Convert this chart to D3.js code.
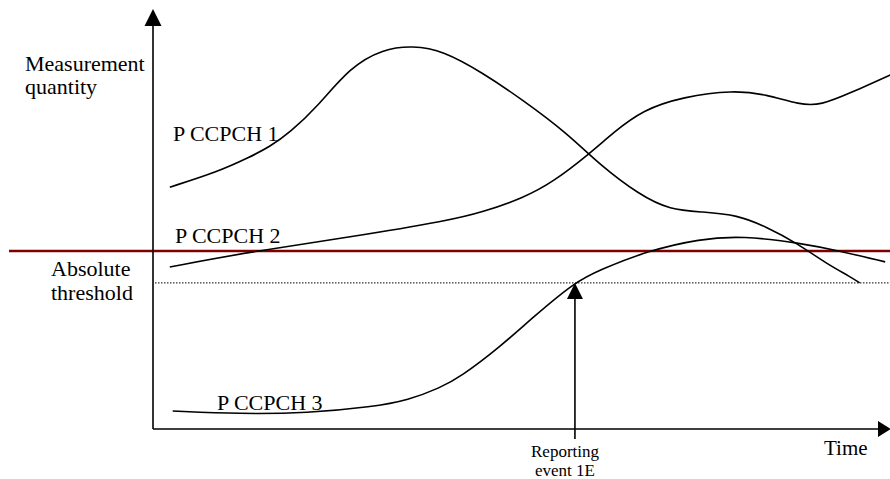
<!DOCTYPE html>
<html>
<head>
<meta charset="utf-8">
<script src="https://cdn.jsdelivr.net/npm/d3@7"></script>
<style>
  html, body { margin: 0; padding: 0; background: #fff; }
  svg text { font-family: 'Liberation Serif', 'Times New Roman', serif; fill: #000; }
</style>
</head>
<body>
<div id="chart"></div>
<script>
const pccpch1 = [
  [2.3, 58.3], [8.8, 61.9], [13.3, 65.5], [16.0, 67.9], [18.8, 71.4], [22.5, 77.4],
  [27.0, 86.9], [31.5, 91.2], [35.6, 92.0], [39.7, 90.8], [45.2, 85.5], [50.7, 79.0],
  [56.7, 71.2], [61.2, 63.6], [66.7, 56.4], [70.8, 52.9], [75.3, 52.4], [80.0, 51.7],
  [84.1, 48.8], [88.2, 45.0], [92.3, 40.0], [95.6, 36.9], [96.8, 35.5], [96.8, 35.5]
]
const pccpch2 = [
  [2.3, 39.3], [13.3, 42.9], [27.0, 46.4], [40.7, 50.4], [45.2, 52.4], [50.7, 55.7],
  [54.8, 59.5], [59.9, 66.4], [63.0, 71.2], [67.1, 76.7], [72.6, 79.8], [79.5, 81.4],
  [84.0, 80.4], [88.6, 77.9], [91.5, 77.8], [95.5, 80.7], [101.0, 85.0], [101.0, 85.0]
]
const pccpch3 = [
  [2.7, 5.0], [11.9, 4.3], [21.1, 4.5], [30.1, 6.0], [35.0, 7.6], [39.3, 10.5],
  [42.1, 13.1], [47.5, 20.2], [52.1, 27.4], [57.8, 35.7], [61.2, 38.6], [67.7, 43.1],
  [74.9, 46.0], [80.8, 46.7], [88.6, 45.0], [94.1, 43.1], [100.3, 40.5], [100.3, 40.5]
]
const seriesLabels = ['P CCPCH 1', 'P CCPCH 2', 'P CCPCH 3']
const redLevel = 43.1        // red horizontal line
const absThreshold = 35.5    // dotted absolute threshold
const reportTime = 57.8      // reporting event 1E

const width = 890, height = 479
const x0 = 153, y0 = 429     // axis origin

const x = d3.scaleLinear().domain([0, 100]).range([153, 883])
const y = d3.scaleLinear().domain([0, 100]).range([432, 12])

const svg = d3.select('#chart')
  .append('svg')
  .attr('width', width)
  .attr('height', height)

// red line
svg.append('line')
  .attr('x1', 9).attr('x2', 890)
  .attr('y1', y(redLevel)).attr('y2', y(redLevel))
  .attr('stroke', '#800000')
  .attr('stroke-width', 2.5)

// dotted threshold
svg.append('line')
  .attr('x1', 155).attr('x2', 890)
  .attr('y1', y(absThreshold)).attr('y2', y(absThreshold))
  .attr('stroke', '#000')
  .attr('stroke-width', 1)
  .attr('stroke-dasharray', '1.5,1.5')

// axes
svg.append('line')
  .attr('x1', x0).attr('x2', x0)
  .attr('y1', y0).attr('y2', 24)
  .attr('stroke', '#000').attr('stroke-width', 1.6)
svg.append('path')
  .attr('d', `M${x0},9 L${x0 - 8.5},26 L${x0 + 8.5},26 Z`)
  .attr('fill', '#000')

svg.append('line')
  .attr('x1', x0).attr('x2', 880)
  .attr('y1', y0).attr('y2', y0)
  .attr('stroke', '#000').attr('stroke-width', 1.6)
svg.append('path')
  .attr('d', `M891,${y0} L878,${y0 - 8} L878,${y0 + 8} Z`)
  .attr('fill', '#000')

// curves (first point doubled so the B-spline starts on it)
const line = d3.line()
  .x(d => x(d[0]))
  .y(d => y(d[1]))
  .curve(d3.curveBasis)

svg.selectAll('.curve')
  .data([pccpch1, pccpch2, pccpch3])
  .enter()
  .append('path')
  .attr('class', 'curve')
  .attr('d', d => line([d[0]].concat(d)))
  .attr('fill', 'none')
  .attr('stroke', '#000')
  .attr('stroke-width', 1.6)

// reporting arrow
const rx = x(reportTime)
svg.append('line')
  .attr('x1', rx).attr('x2', rx)
  .attr('y1', 439).attr('y2', y(absThreshold) + 12)
  .attr('stroke', '#000').attr('stroke-width', 1.6)
svg.append('path')
  .attr('d', `M${rx},${y(absThreshold)} L${rx - 8},${y(absThreshold) + 16} L${rx + 8},${y(absThreshold) + 16} Z`)
  .attr('fill', '#000')

// labels
const labelPos = [[173, 141], [175, 243], [217, 410]]
svg.selectAll('.series-label')
  .data(seriesLabels)
  .enter()
  .append('text')
  .attr('class', 'series-label')
  .attr('x', (d, i) => labelPos[i][0])
  .attr('y', (d, i) => labelPos[i][1])
  .style('font-size', '22px')
  .text(d => d)

const addText = (lines, xx, yy, size, lh, anchor) => {
  svg.append('text')
    .attr('text-anchor', anchor || 'start')
    .style('font-size', size + 'px')
    .selectAll('tspan')
    .data(lines)
    .enter()
    .append('tspan')
    .attr('x', xx)
    .attr('y', (d, i) => yy + i * lh)
    .text(t => t)
}

addText(['Measurement', 'quantity'], 25, 71, 22, 23)
addText(['Absolute', 'threshold'], 51, 276, 22, 24)
addText(['Time'], 824, 455, 21, 0)
addText(['Reporting', 'event 1E'], 565, 457, 17, 19, 'middle')
</script>
</body>
</html>
